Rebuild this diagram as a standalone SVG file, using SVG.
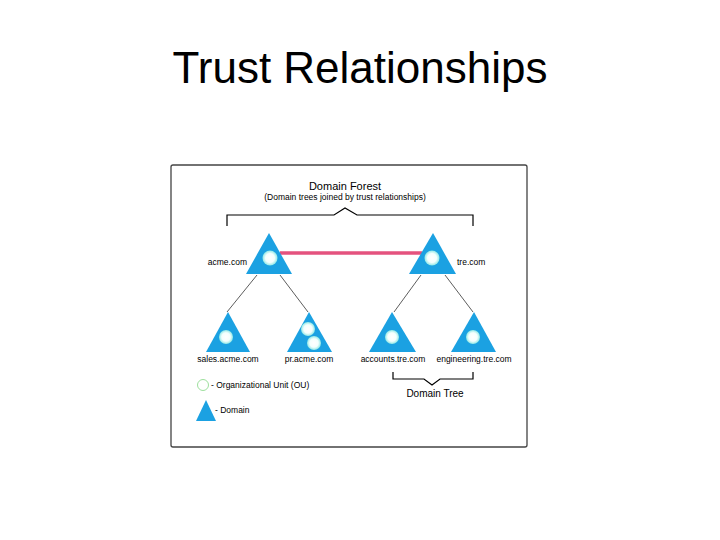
<svg xmlns="http://www.w3.org/2000/svg" width="720" height="540" viewBox="0 0 720 540">
<defs>
<radialGradient id="ou" cx="0.5" cy="0.5" r="0.5">
<stop offset="0" stop-color="#ffffff"/>
<stop offset="0.6" stop-color="#f4fffd"/>
<stop offset="1" stop-color="#8fe8e6"/>
</radialGradient>
</defs>
<style>
.t{font-family:"Liberation Sans",Arial,sans-serif;fill:#000}
.dom{fill:#1ba1e2}
.ou{fill:url(#ou)}
.lbl{font-size:8.5px}
.ln{stroke:#333;stroke-width:0.8;fill:none}
.br{stroke:#000;stroke-width:1.2;fill:none}
</style>
<rect width="720" height="540" fill="#fff"/>
<text class="t" x="360" y="83" font-size="44" text-anchor="middle">Trust Relationships</text>
<rect x="171" y="165" width="356" height="282" rx="2" fill="#fff" stroke="#444" stroke-width="1.3"/>
<text class="t" x="345" y="190" font-size="11" text-anchor="middle">Domain Forest</text>
<text class="t" x="345" y="200" font-size="8.5" text-anchor="middle">(Domain trees joined by trust relationships)</text>
<path class="br" d="M227,226 V215 H334 L345,208 L357,215 H473 V226"/>
<g id="connectors">
<line x1="280" y1="253" x2="422" y2="253" stroke="#e4527e" stroke-width="3.5"/>
<line class="ln" x1="257" y1="275" x2="227" y2="312"/>
<line class="ln" x1="280" y1="275" x2="308" y2="312"/>
<line class="ln" x1="421" y1="275" x2="394" y2="312"/>
<line class="ln" x1="445" y1="275" x2="473" y2="312"/>
</g>
<g id="acme">
<polygon class="dom" points="269,233 292,274 246,274"/>
<circle class="ou" cx="270" cy="258" r="7.5"/>
<text class="t lbl" x="247" y="265" text-anchor="end">acme.com</text>
</g>
<g id="tre">
<polygon class="dom" points="433,233 456,274 409,274"/>
<circle class="ou" cx="432" cy="258" r="7.5"/>
<text class="t lbl" x="457" y="265">tre.com</text>
</g>
<g id="sales">
<polygon class="dom" points="228,312 250,352 206,352"/>
<circle class="ou" cx="226" cy="337" r="7"/>
<text class="t lbl" x="228" y="362" text-anchor="middle">sales.acme.com</text>
</g>
<g id="pr">
<polygon class="dom" points="309,312 332,352 287,352"/>
<circle class="ou" cx="308" cy="329" r="7"/>
<circle class="ou" cx="314" cy="343" r="7"/>
<text class="t lbl" x="309" y="362" text-anchor="middle">pr.acme.com</text>
</g>
<g id="accounts">
<polygon class="dom" points="392,312 416,352 369,352"/>
<circle class="ou" cx="392" cy="337" r="7"/>
<text class="t lbl" x="393" y="362" text-anchor="middle">accounts.tre.com</text>
</g>
<g id="engineering">
<polygon class="dom" points="474,312 496,352 451,352"/>
<circle class="ou" cx="473" cy="337" r="7"/>
<text class="t lbl" x="474" y="362" text-anchor="middle">engineering.tre.com</text>
</g>
<path class="br" d="M393,372 V379 H424 L432,385 L440,379 H473 V372"/>
<text class="t" x="435" y="397" font-size="10" text-anchor="middle">Domain Tree</text>
<g id="legend">
<circle cx="203" cy="385" r="5.5" fill="#fff" stroke="#9de09d" stroke-width="1"/>
<text class="t" x="211" y="388" font-size="8.5">- Organizational Unit (OU)</text>
<polygon class="dom" points="206,400 216,421 196,421"/>
<text class="t" x="215" y="413" font-size="8.5">- Domain</text>
</g>
</svg>
